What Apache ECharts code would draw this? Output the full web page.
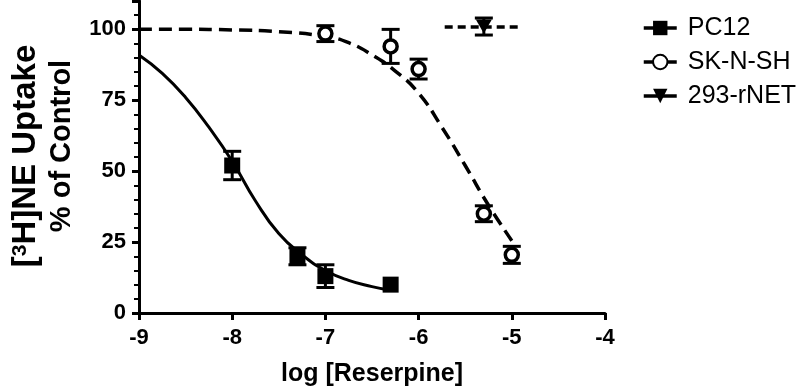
<!DOCTYPE html>
<html>
<head>
<meta charset="utf-8">
<script src="https://cdn.jsdelivr.net/npm/echarts@6/dist/echarts.min.js"></script>
<style>
  html, body { margin: 0; padding: 0; background: #fff; }
  #chart { width: 800px; height: 386px; }
</style>
</head>
<body>
<div id="chart"></div>
<script>
// measured points (log M, % of control, SEM)
const pc12X = [-8, -7.3, -7, -6.3]
const pc12Y = [52, 20, 13, 10]
const pc12Err = [5, 3, 4, 0]

const skX = [-7, -6.3, -6, -5.3, -5]
const skY = [98.5, 94, 86, 35, 20.5]
const skErr = [2.8, 6, 3.5, 2.8, 3]

const rnetX = [-5.3]
const rnetY = [101]
const rnetErr = [3]

// fitted curves
const pc12CurveX = [-9, -8.75, -8.5, -8.25, -8, -7.75, -7.5, -7.25, -7, -6.75, -6.5, -6.35]
const pc12CurveY = [91, 84.5, 76, 65.5, 53.5, 39.5, 28, 20.5, 15, 11.5, 9.3, 8.3]
const skCurveX = [-9, -8.5, -8, -7.5, -7, -6.75, -6.5, -6.25, -6, -5.75, -5.5, -5.25, -5]
const skCurveY = [100, 100, 99.8, 99.2, 97.5, 95.3, 91, 85.3, 77.5, 65.5, 52, 38, 25.5]
const rnetLineX = [-5.72, -4.9]
const rnetLineY = [100.8, 100.8]

const xTicks = [-9, -8, -7, -6, -5, -4]
const yTicks = [0, 25, 50, 75, 100]

const font = 'Liberation Sans'
const zip = (xs, ys) => xs.map((x, i) => [x, ys[i]])
const errData = (xs, ys, es) => xs.map((x, i) => [x, ys[i], es[i]])

function errorBars(params, api) {
  const x = api.value(0)
  const y = api.value(1)
  const e = api.value(2)
  if (!e) return null
  const top = api.coord([x, y + e])
  const bot = api.coord([x, y - e])
  const w = 9
  const style = { stroke: '#000', lineWidth: 3 }
  return {
    type: 'group',
    children: [
      { type: 'line', shape: { x1: top[0], y1: top[1], x2: bot[0], y2: bot[1] }, style },
      { type: 'line', shape: { x1: top[0] - w, y1: top[1], x2: top[0] + w, y2: top[1] }, style },
      { type: 'line', shape: { x1: bot[0] - w, y1: bot[1], x2: bot[0] + w, y2: bot[1] }, style }
    ]
  }
}

const mycharts = echarts.init(document.getElementById('chart'))
const option = {
  animation: false,
  grid: { left: 139, right: 195, top: 1, bottom: 73, outerBoundsMode: 'none', containLabel: false },
  legend: {
    data: ['PC12', 'SK-N-SH', '293-rNET'],
    orient: 'vertical',
    left: 637,
    top: 10,
    itemWidth: 33,
    itemHeight: 18,
    itemGap: 8,
    lineStyle: { width: 3.5, opacity: 1, type: 'solid', color: '#000' },
    textStyle: { fontFamily: font, fontSize: 25, color: '#000', lineHeight: 26, padding: [0, 0, 0, 6] }
  },
  graphic: [
    {
      type: 'text', x: 26, y: 156, rotation: Math.PI / 2,
      style: {
        text: '[{s|3}H]NE Uptake', fontFamily: font, fontWeight: 'bold', fontSize: 33, fill: '#000',
        textAlign: 'center', textVerticalAlign: 'middle',
        rich: { s: { fontFamily: font, fontWeight: 'bold', fontSize: 21, fill: '#000', verticalAlign: 'top' } }
      }
    },
    {
      type: 'text', x: 62, y: 146, rotation: Math.PI / 2,
      style: { text: '% of Control', fontFamily: font, fontWeight: 'bold', fontSize: 29, fill: '#000', textAlign: 'center', textVerticalAlign: 'middle' }
    }
  ],
  xAxis: {
    type: 'value',
    min: xTicks[0],
    max: xTicks[xTicks.length - 1],
    interval: 1,
    name: 'log [Reserpine]',
    nameLocation: 'middle',
    nameGap: 49,
    nameTextStyle: { fontFamily: font, fontWeight: 'bold', fontSize: 25, color: '#000' },
    splitLine: { show: false },
    axisLine: { lineStyle: { color: '#000', width: 3 } },
    axisTick: { length: 7, lineStyle: { color: '#000', width: 3 } },
    axisLabel: { fontFamily: font, fontWeight: 'bold', fontSize: 22, color: '#000', margin: 14 }
  },
  yAxis: {
    type: 'value',
    min: yTicks[0],
    max: 110,
    interval: 25,
    splitLine: { show: false },
    axisLine: { show: true, lineStyle: { color: '#000', width: 3 } },
    axisTick: { show: true, length: 7, lineStyle: { color: '#000', width: 3 } },
    minorTick: { show: true, splitNumber: 5, length: 5, lineStyle: { color: '#000', width: 2 } },
    axisLabel: { fontFamily: font, fontWeight: 'bold', fontSize: 22, color: '#000', margin: 13, showMaxLabel: false }
  },
  series: [
    {
      name: 'pc12 fit', type: 'line', data: zip(pc12CurveX, pc12CurveY), smooth: 0.5,
      symbol: 'none', lineStyle: { color: '#000', width: 3 }, z: 1
    },
    {
      name: 'sk fit', type: 'line', data: zip(skCurveX, skCurveY), smooth: 0.5,
      symbol: 'none', lineStyle: { color: '#000', width: 3.5, type: [13, 7] }, z: 1
    },
    {
      name: 'rnet fit', type: 'line', data: zip(rnetLineX, rnetLineY),
      symbol: 'none', lineStyle: { color: '#000', width: 3.5, type: [8, 5] }, z: 1
    },
    { type: 'custom', renderItem: errorBars, data: errData(pc12X, pc12Y, pc12Err), z: 2 },
    { type: 'custom', renderItem: errorBars, data: errData(skX, skY, skErr), z: 2 },
    { type: 'custom', renderItem: errorBars, data: errData(rnetX, rnetY, rnetErr), z: 2 },
    {
      name: 'PC12', type: 'line', data: zip(pc12X, pc12Y), symbol: 'rect', symbolSize: 16,
      showAllSymbol: true, lineStyle: { width: 0, opacity: 0 }, itemStyle: { color: '#000' }, z: 3
    },
    {
      name: 'SK-N-SH', type: 'line', data: zip(skX, skY), symbol: 'circle', symbolSize: 13,
      showAllSymbol: true, lineStyle: { width: 0, opacity: 0 },
      itemStyle: { color: '#fff', borderColor: '#000', borderWidth: 3.5 }, z: 3
    },
    {
      name: '293-rNET', type: 'line', data: zip(rnetX, rnetY), symbol: 'path://M0,0 L10,0 L5,9 Z', symbolSize: [16, 14],
      lineStyle: { width: 0, opacity: 0 }, itemStyle: { color: '#000' }, z: 3
    }
  ]
}
mycharts.setOption(option)
window.addEventListener('resize', function() {
  mycharts.resize()
})
</script>
</body>
</html>
